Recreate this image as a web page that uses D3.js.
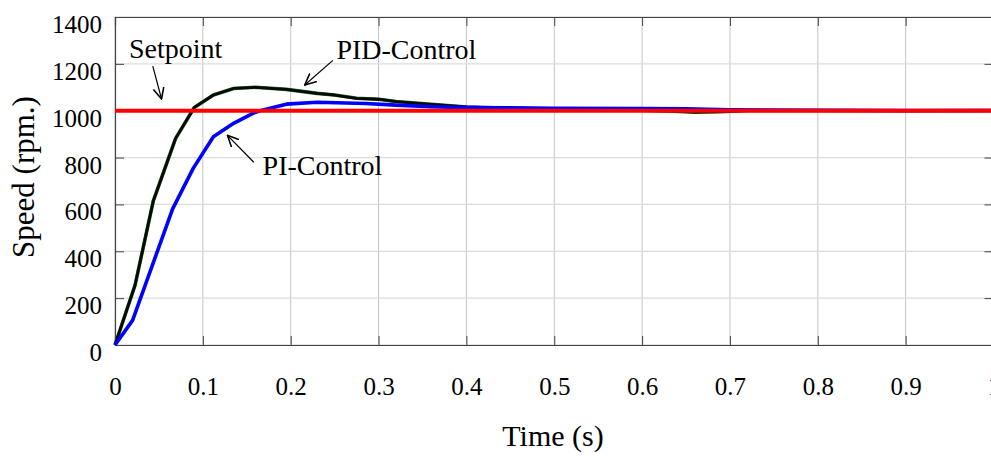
<!DOCTYPE html>
<html><head><meta charset="utf-8">
<script src="https://cdn.jsdelivr.net/npm/d3@7"></script>
<style>html,body{margin:0;padding:0;background:#fff;overflow:hidden}svg{display:block}</style>
</head><body>
<svg id="chart" width="991" height="456"></svg>
<script>
// Data
const xTicks = [0, 0.1, 0.2, 0.3, 0.4, 0.5, 0.6, 0.7, 0.8, 0.9, 1];
const xTickLabels = ["0", "0.1", "0.2", "0.3", "0.4", "0.5", "0.6", "0.7", "0.8", "0.9", "1"];
const yTicks = [0, 200, 400, 600, 800, 1000, 1200, 1400];
const yTickLabels = ["0", "200", "400", "600", "800", "1000", "1200", "1400"];

const pidTime  = [0, 0.0228, 0.0436, 0.069, 0.0903, 0.112, 0.135, 0.16, 0.195, 0.23, 0.25, 0.275, 0.3, 0.32, 0.36, 0.4, 0.45, 0.5, 0.55, 0.6, 0.635, 0.66, 0.69, 0.72, 0.8, 0.9, 1.0];
const pidSpeed = [0, 255, 615, 882, 1014, 1067, 1095, 1100, 1091, 1074, 1067, 1053, 1049, 1039, 1027, 1016, 1010, 1006, 1004, 1002, 998, 994, 996, 1001, 1001, 1000, 1001];

const piTime  = [0, 0.02, 0.0655, 0.089, 0.112, 0.135, 0.157, 0.165, 0.195, 0.23, 0.285, 0.32, 0.36, 0.4, 0.45, 0.5, 0.6, 0.65, 0.7, 0.8, 0.9, 1.0];
const piSpeed = [0, 105, 580, 754, 889, 946, 989, 1000, 1028, 1036, 1031, 1024, 1017, 1013, 1012, 1010, 1009, 1008, 1004, 1002, 1001, 1001];

const setTime  = [0, 1];
const setSpeed = [1000, 1000];

const annotations = [
  {text: "Setpoint",    tx: 0.016, ty: 1225, ax: 0.043, ay: 1190, bx: 0.053, by: 1050},
  {text: "PID-Control", tx: 0.252, ty: 1220, ax: 0.248, ay: 1215, bx: 0.216, by: 1110},
  {text: "PI-Control",  tx: 0.168, ty: 725,  ax: 0.158, ay: 780,  bx: 0.128, by: 895}
];

const svg = d3.select("#chart");
const x = d3.scaleLinear().domain([0, 1]).range([115, 993.5]);
const y = d3.scaleLinear().domain([0, 1400]).range([345, 17]);
const FONT = "'Liberation Serif','Times New Roman',serif";

// grid
const grid = svg.append("g");
grid.selectAll("line.v").data(xTicks).join("line")
  .attr("x1", d => x(d)).attr("x2", d => x(d))
  .attr("y1", y(0)).attr("y2", y(1400))
  .attr("stroke", "#c4c4c4").attr("stroke-width", 1);
grid.selectAll("line.h").data(yTicks).join("line")
  .attr("x1", x(0)).attr("x2", x(1))
  .attr("y1", d => y(d)).attr("y2", d => y(d))
  .attr("stroke", "#dcdcdc").attr("stroke-width", 1.3);

// axes (ticks inside)
const axB = d3.axisBottom(x).tickValues(xTicks).tickSize(-9).tickFormat((d, i) => xTickLabels[i]);
const axT = d3.axisTop(x).tickValues(xTicks).tickSize(-9).tickFormat("");
const axL = d3.axisLeft(y).tickValues(yTicks).tickSize(-9).tickFormat((d, i) => yTickLabels[i]);
const axR = d3.axisRight(y).tickValues(yTicks).tickSize(-9).tickFormat("");

const gB = svg.append("g").attr("transform", `translate(0,${y(0)})`).call(axB);
const gT = svg.append("g").attr("transform", `translate(0,${y(1400)})`).call(axT);
const gL = svg.append("g").attr("transform", `translate(${x(0)},0)`).call(axL);
const gR = svg.append("g").attr("transform", `translate(${x(1)},0)`).call(axR);
[gB, gT, gL, gR].forEach(g => {
  g.select(".domain").attr("stroke", "#444").attr("stroke-width", 1.2);
  g.selectAll(".tick line").attr("stroke", "#444").attr("stroke-width", 1);
  g.selectAll("text").attr("font-family", FONT).attr("font-size", 25).attr("fill", "#000");
});
gB.selectAll("text").attr("dy", null).attr("y", 50);
gL.selectAll("text").attr("x", -13).attr("dy", "0.62em");

// lines
const line = d3.line().x(d => x(d[0])).y(d => y(d[1]));
const pid = d3.zip(pidTime, pidSpeed);
const pi = d3.zip(piTime, piSpeed);
const sp = d3.zip(setTime, setSpeed);
svg.append("path").datum(pid).attr("d", line).attr("fill", "none")
  .attr("stroke", "#2a6a2a").attr("stroke-width", 3.6).attr("stroke-linejoin", "round");
svg.append("path").datum(pid).attr("d", line).attr("fill", "none")
  .attr("stroke", "#050a05").attr("stroke-width", 2.8).attr("stroke-linejoin", "round");
svg.append("path").datum(pi).attr("d", line).attr("fill", "none")
  .attr("stroke", "#0000ff").attr("stroke-width", 3.6).attr("stroke-linejoin", "round");
svg.append("path").datum(sp).attr("d", line).attr("fill", "none")
  .attr("stroke", "#ff0000").attr("stroke-width", 4);

// annotations
const defs = svg.append("defs");
defs.append("marker").attr("id", "arr").attr("viewBox", "0 0 10 10")
  .attr("refX", 9.5).attr("refY", 5).attr("markerWidth", 12).attr("markerHeight", 12)
  .attr("markerUnits", "userSpaceOnUse").attr("orient", "auto")
  .append("path").attr("d", "M0,0.5 L9.5,5 L0,9.5").attr("fill", "none")
  .attr("stroke", "#000").attr("stroke-width", 1.3);
const ann = svg.append("g");
annotations.forEach(a => {
  ann.append("text").attr("x", x(a.tx)).attr("y", y(a.ty))
    .attr("font-family", FONT).attr("font-size", 28).attr("fill", "#000").text(a.text);
  ann.append("line").attr("x1", x(a.ax)).attr("y1", y(a.ay))
    .attr("x2", x(a.bx)).attr("y2", y(a.by))
    .attr("stroke", "#000").attr("stroke-width", 1.2).attr("marker-end", "url(#arr)");
});

// axis titles
svg.append("text").attr("x", 553).attr("y", 446).attr("text-anchor", "middle")
  .attr("font-family", FONT).attr("font-size", 30).attr("fill", "#000").text("Time (s)");
svg.append("text").attr("transform", "translate(34,177) rotate(-90)").attr("text-anchor", "middle")
  .attr("font-family", FONT).attr("font-size", 31).attr("fill", "#000").text("Speed (rpm.)");
</script>
</body></html>
